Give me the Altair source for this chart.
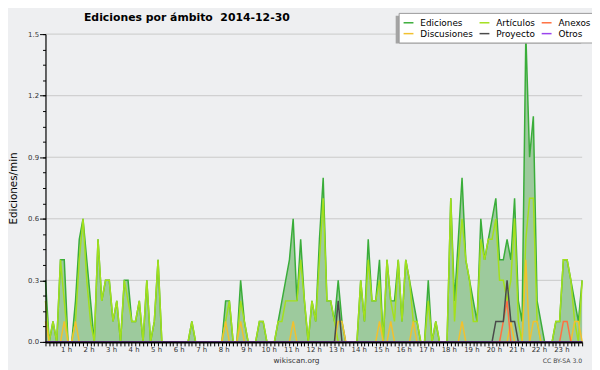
import altair as alt
import pandas as pd

# 10-minute grid over the day (minutes since 00:00), 00:00 ... 23:50
minutos = list(range(0, 1431, 10))

ediciones = [
    0.3, 0, 0.1, 0, 0.4, 0.4, 0, 0, 0.2, 0.5,
    0.6, 0.4, 0.2, 0, 0.5, 0.2, 0.3, 0.3, 0.1, 0.2,
    0, 0.3, 0.3, 0.1, 0.1, 0.2, 0, 0.3, 0, 0.1,
    0.4, 0, 0, 0, 0, 0, 0, 0, 0, 0.1,
    0, 0, 0, 0, 0, 0, 0, 0, 0.2, 0.2,
    0, 0, 0.3, 0.1, 0, 0, 0, 0.1, 0.1, 0,
    0, 0, 0.1, 0.2, 0.3, 0.4, 0.6, 0.2, 0.5, 0.2,
    0, 0.2, 0.1, 0.5, 0.8, 0.2, 0.2, 0.1, 0.3, 0.1,
    0, 0, 0, 0, 0.3, 0.1, 0.5, 0.2, 0.2, 0.4,
    0, 0.4, 0.2, 0.2, 0.4, 0.1, 0.4, 0.3, 0.2, 0.1,
    0, 0, 0.3, 0, 0.1, 0, 0, 0, 0.7, 0.2,
    0.5, 0.8, 0.4, 0.3, 0.2, 0.1, 0.6, 0.4, 0.5, 0.6,
    0.7, 0.4, 0.4, 0.5, 0.4, 0.7, 0.2, 0.1, 1.5, 0.9,
    1.1, 0.2, 0.1, 0, 0, 0, 0.1, 0.1, 0.4, 0.4,
    0.3, 0.2, 0.1, 0.3,
]

articulos = [
    0.2, 0, 0.1, 0, 0.4, 0.2, 0, 0, 0.1, 0.4,
    0.6, 0.3, 0.1, 0, 0.5, 0.2, 0.3, 0.3, 0.1, 0.2,
    0, 0.3, 0.2, 0.1, 0.1, 0.2, 0, 0.3, 0, 0.1,
    0.4, 0, 0, 0, 0, 0, 0, 0, 0, 0.1,
    0, 0, 0, 0, 0, 0, 0, 0, 0.1, 0.2,
    0, 0, 0.2, 0.1, 0, 0, 0, 0.1, 0.1, 0,
    0, 0, 0.1, 0.1, 0.2, 0.2, 0.2, 0.2, 0.4, 0.2,
    0, 0.2, 0.1, 0.4, 0.7, 0.2, 0.2, 0.1, 0, 0,
    0, 0, 0, 0, 0.3, 0.1, 0.4, 0.2, 0.2, 0.3,
    0, 0.4, 0.2, 0.1, 0.4, 0.1, 0.4, 0.3, 0.1, 0.1,
    0, 0, 0.2, 0, 0.1, 0, 0, 0, 0.7, 0.1,
    0.4, 0.6, 0.4, 0.3, 0.1, 0.1, 0.5, 0.4, 0.5, 0.5,
    0.6, 0.3, 0.3, 0.2, 0.3, 0.6, 0.1, 0, 0.5, 0.7,
    0.7, 0.1, 0, 0, 0, 0, 0.1, 0.1, 0.4, 0.4,
    0.3, 0.1, 0, 0.3,
]

# sparse series: minute -> value (all other minutes are 0)
discusiones_min = [0, 50, 80, 480, 520, 660, 780, 790, 890, 920, 980, 1110, 1240, 1280, 1300, 1310, 1410, 1420]
discusiones_val = [0.1, 0.1, 0.1, 0.1, 0.1, 0.1, 0.1, 0.1, 0.1, 0.1, 0.1, 0.1, 0.1, 0.4, 0.1, 0.1, 0.1, 0.1]
anexos_min = [1220, 1230, 1380, 1390]
anexos_val = [0.1, 0.2, 0.1, 0.1]
proyecto_min = [780, 1200, 1210, 1220, 1230, 1240, 1250]
proyecto_val = [0.2, 0.1, 0.1, 0.1, 0.3, 0.1, 0.1]
otros_min = []
otros_val = []

# legend order (filled column by column, two rows)
series = ["Ediciones", "Discusiones", "Artículos", "Proyecto", "Anexos", "Otros"]
colores = ["#3aad3a", "#f2c12e", "#a3e01c", "#4a4a4a", "#ff7040", "#9a44ee"]
draw_order = ["Ediciones", "Artículos", "Discusiones", "Anexos", "Proyecto", "Otros"]

titulo = "Ediciones por ámbito\u00a0 2014-12-30"
licencia = "CC BY-SA 3.0"

y_major = [0, 0.3, 0.6, 0.9, 1.2, 1.5]
y_minor = [k * 0.075 for k in range(21)]
x_major = list(range(1, 24))
x_minor = [m / 60 for m in minutos]


def sparse(mins, vals):
    d = dict(zip(mins, vals))
    return [d.get(m, 0) for m in minutos]


values = {
    "Ediciones": ediciones,
    "Artículos": articulos,
    "Discusiones": sparse(discusiones_min, discusiones_val),
    "Anexos": sparse(anexos_min, anexos_val),
    "Proyecto": sparse(proyecto_min, proyecto_val),
    "Otros": sparse(otros_min, otros_val),
}

rows = []
for name in draw_order:
    for m, v in zip(minutos, values[name]):
        rows.append({"hora": m / 60, "valor": v, "serie": name})
df = pd.DataFrame(rows)

FONT = "DejaVu Sans"
xscale = alt.Scale(domain=[0, minutos[-1] / 60], nice=False, zero=False)
yscale = alt.Scale(domain=[0, 1.5], nice=False)
cscale = alt.Scale(domain=series, range=colores)

legend = alt.Legend(
    orient="none", legendX=358, legendY=-21.5, columns=3, title=None,
    fillColor="white", strokeColor="#9a9a9a", padding=4,
    symbolType="stroke", symbolSize=100, symbolStrokeWidth=1.5,
    labelFontSize=9, labelFont=FONT, labelColor="black", labelOffset=6,
    columnPadding=3, rowPadding=0, cornerRadius=0,
)

axis_x_minor = alt.Axis(orient="bottom", values=x_minor, labels=False, tickSize=4,
                        tickColor="black", tickWidth=1, domainColor="black",
                        domainWidth=2, grid=False, title=None, zindex=1)
axis_x_major = alt.Axis(orient="bottom", values=x_major, labelExpr="datum.value + ' h'",
                        ticks=False, domain=False, grid=False, labelPadding=4,
                        labelFontSize=7, labelFont=FONT, labelColor="#333", labelOffset=-2,
                        title="wikiscan.org", titleFont=FONT, titleFontSize=7.5,
                        titleFontWeight="normal", titleColor="#333", titleX=254,
                        titleY=21, titleBaseline="alphabetic", titleAlign="center")
axis_y_major = alt.Axis(orient="left", values=y_major, format=".1f", tickSize=6,
                        tickColor="black", domainColor="black", domainWidth=1.2,
                        grid=False, labelFontSize=7, labelFont=FONT, labelColor="#333",
                        labelPadding=1, title="Ediciones/min", titleFont=FONT,
                        titleFontSize=10.5, titleFontWeight="normal", titleColor="black",
                        titleX=-32, titleY=156, titleAngle=270, titleAlign="center",
                        titleBaseline="middle", zindex=1)
axis_y_minor = alt.Axis(orient="left", values=y_minor, labels=False, tickSize=3,
                        tickColor="black", domain=False, grid=False, title=None, zindex=1)

grid = alt.Chart(pd.DataFrame({"g": y_major[1:]})).mark_rule(
    color="#c9c9c9", strokeWidth=1
).encode(y=alt.Y("g:Q", scale=yscale, axis=axis_y_major))

area = alt.Chart(df[df.serie == "Ediciones"]).mark_area(
    color="#9dca9d", opacity=1
).encode(
    x=alt.X("hora:Q", scale=xscale, axis=axis_x_major),
    y=alt.Y("valor:Q", scale=yscale, axis=axis_y_minor),
)

lines = []
for i, name in enumerate(draw_order):
    lines.append(
        alt.Chart(df[df.serie == name]).mark_line(strokeWidth=1.5).encode(
            x=alt.X("hora:Q", scale=xscale, axis=axis_x_minor if i == 0 else None),
            y=alt.Y("valor:Q", scale=yscale, axis=None),
            color=alt.Color("serie:N", scale=cscale, legend=legend),
        )
    )

shadow = alt.Chart(pd.DataFrame({"s": [1]})).mark_rect(color="#a4a4a4").encode(
    x=alt.value(355), x2=alt.value(543), y=alt.value(-18.5), y2=alt.value(9.5)
)

cc = alt.Chart(pd.DataFrame({"t": [licencia]})).mark_text(
    align="right", baseline="middle", fontSize=6.2, font=FONT, color="#444"
).encode(x=alt.value(544), y=alt.value(331), text="t:N")

title_mark = alt.Chart(pd.DataFrame({"t": [titulo]})).mark_text(
    align="left", baseline="alphabetic", fontSize=11, font=FONT,
    fontWeight="bold", color="black"
).encode(x=alt.value(39), y=alt.value(-13.5), text="t:N")

chart = alt.layer(grid, area, *lines, shadow, cc, title_mark).resolve_axis(
    x="independent", y="independent"
).properties(
    width=544, height=312,
    autosize=alt.AutoSizeParams(type="none"),
    padding={"left": 38, "top": 24, "right": 10, "bottom": 26},
    background="#eeeff1",
).configure_view(stroke=None)

chart.save("out.html", embed_options={"renderer": "svg", "actions": False})
